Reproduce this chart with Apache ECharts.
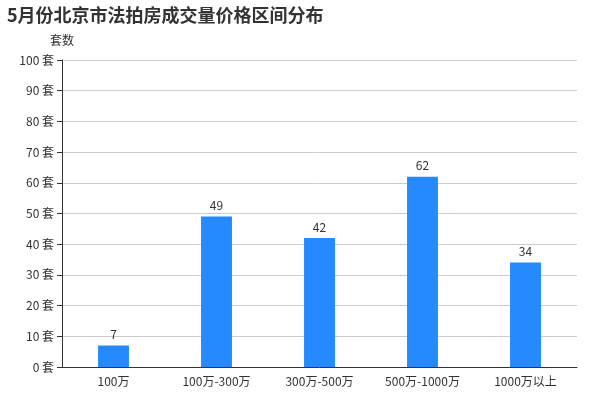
<!DOCTYPE html>
<html><head><meta charset="utf-8">
<script src="https://cdn.jsdelivr.net/npm/echarts@6/dist/echarts.min.js"></script>
<style>html,body{margin:0;padding:0;background:#fff}#c{width:600px;height:400px}</style>
</head><body><div id="c"></div>
<script>
const categories = ['100万', '100万-300万', '300万-500万', '500万-1000万', '1000万以上'];
const counts = [7, 49, 42, 62, 34];

const chart = echarts.init(document.getElementById('c'));
chart.setOption({
  animation: false,
  textStyle: { fontFamily: 'Noto Sans CJK SC' },
  title: {
    text: '5月份北京市法拍房成交量价格区间分布', left: 2, top: 1,
    textStyle: { fontSize: 18, fontWeight: 'bold', color: '#333' },
  },
  grid: { left: 62, right: 23, top: 60, bottom: 33 },
  xAxis: {
    type: 'category', data: categories,
    axisLine: { lineStyle: { color: '#333' } },
    axisTick: { lineStyle: { color: '#333' } },
    axisLabel: { color: '#333', fontSize: 12 },
  },
  yAxis: {
    type: 'value', name: '套数', min: 0, max: 100, interval: 10,
    nameTextStyle: { color: '#333', fontSize: 12, align: 'center' },
    nameGap: 14,
    axisLine: { show: true, lineStyle: { color: '#333' } },
    axisTick: { show: true, lineStyle: { color: '#333' } },
    axisLabel: { color: '#333', fontSize: 12, formatter: '{value} 套' },
    splitLine: { lineStyle: { color: '#ccc' } },
  },
  series: [{
    type: 'bar', data: counts, barWidth: '30%',
    itemStyle: { color: '#2589ff' },
    label: { show: true, position: 'top', color: '#333', fontSize: 12 },
  }],
});
</script></body></html>
